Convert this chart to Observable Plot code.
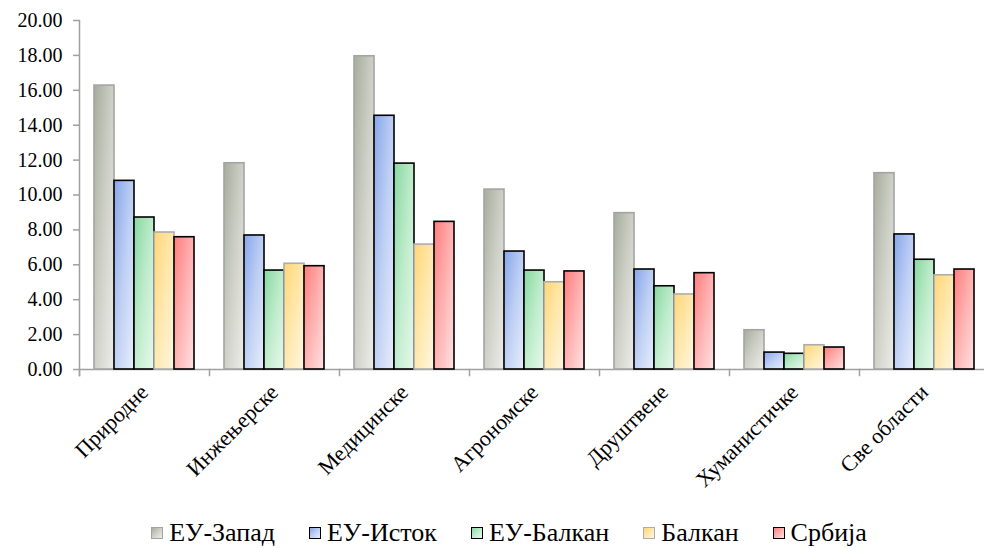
<!DOCTYPE html>
<html><head><meta charset="utf-8">
<script src="https://cdn.jsdelivr.net/npm/d3@7"></script>
<script src="https://cdn.jsdelivr.net/npm/@observablehq/plot@0.6"></script>
<style>
html,body{margin:0;padding:0;background:#fff;}
body{width:984px;height:548px;overflow:hidden;font-family:"Liberation Serif","Times New Roman",serif;}
#legend{display:flex;justify-content:center;align-items:center;height:28px;line-height:28px;font-size:26px;color:#000;padding-left:34px;margin-top:19px;}
.item{display:flex;align-items:center;margin:0 17px;}
.sw{width:10px;height:10px;margin-right:6px;box-sizing:content-box;border-width:1.5px;border-style:solid;}
</style></head>
<body><div id="chart"></div><div id="legend"></div>
<script>
// ---- data ----
const categories = ["Природне","Инжењерске","Медицинске","Агрономске","Друштвене","Хуманистичке","Све области"];
const seriesNames = ["ЕУ-Запад","ЕУ-Исток","ЕУ-Балкан","Балкан","Србија"];
const euWest   = [16.27, 11.82, 17.95, 10.31, 8.96, 2.25, 11.25];
const euEast   = [10.81,  7.68, 14.54,  6.76, 5.73, 0.97,  7.74];
const euBalkan = [ 8.71,  5.67, 11.80,  5.67, 4.77, 0.90,  6.29];
const balkan   = [ 7.85,  6.06,  7.16,  5.00, 4.30, 1.39,  5.40];
const serbia   = [ 7.58,  5.92,  8.46,  5.62, 5.52, 1.26,  5.73];
const yTicks = [0,2,4,6,8,10,12,14,16,18,20];

// ---- styles ----
const gradStops = [
  ["#a7ac9c","#cfd1c8","#ededea"],
  ["#88a6ea","#bfd0f4","#e8eefc"],
  ["#88d8a0","#bfeccc","#e8f9ed"],
  ["#ffd676","#ffe8ae","#fff7e3"],
  ["#ff7d7d","#ffb2b2","#ffe2e2"]
];
const strokes = ["#a4a4a4","#000","#000","#acacac","#000"];
const font = '"Liberation Serif","Times New Roman",serif';

// gradient defs
const defs = d3.select("body").append("svg").attr("width",0).attr("height",0)
  .style("position","absolute").style("left",0).style("top",0).append("defs");
gradStops.forEach((stops,i)=>{
  const g = defs.append("linearGradient").attr("id","g"+i)
    .attr("x1",0).attr("y1",0).attr("x2",1).attr("y2",1);
  stops.forEach((c,k)=>g.append("stop").attr("offset",k/(stops.length-1)).attr("stop-color",c));
});

const seriesValues = [euWest, euEast, euBalkan, balkan, serbia];
const rows = [];
seriesNames.forEach((s,i)=>categories.forEach((c,j)=>rows.push({category:c, series:s, value:seriesValues[i][j]})));

const axisGray = "#a0a0a0";
const plot = Plot.plot({
  width: 984, height: 500,
  marginLeft: 78, marginRight: -5, marginTop: 20, marginBottom: 131,
  style: {fontFamily: font, fontSize: "20px", color: "#000", background: "#fff"},
  fx: {domain: categories, padding: 0, label: null, axis: null},
  x: {domain: seriesNames, paddingInner: 0, paddingOuter: 0.72, axis: null},
  y: {domain: [0, 20], label: null, axis: null},
  marks: [
    Plot.ruleY([0], {stroke: axisGray, strokeWidth: 1.5}),
    ...seriesNames.map((s,i)=>Plot.barY(rows.filter(d=>d.series===s), {
      fx: "category", x: "series", y: "value",
      fill: `url(#g${i})`, stroke: strokes[i], strokeWidth: 1.6
    })),
    Plot.frame({anchor: "left", stroke: axisGray, strokeWidth: 1.5, insetTop: 349, insetBottom: -6}),
    Plot.frame({anchor: "left", facet: "super", stroke: axisGray, strokeWidth: 1.5, insetBottom: -6}),
    Plot.axisY(yTicks, {tickSize: 6, tickPadding: 11, tickFormat: d=>d.toFixed(2),
      stroke: axisGray, strokeWidth: 1.5, fill: "#000", fontSize: 20, fontFamily: font}),
    Plot.axisFx({anchor: "bottom", tickSize: 0, tickRotate: -45, tickPadding: 19,
      fontSize: 22, fill: "#000", label: null, fontFamily: font})
  ]
});
document.getElementById("chart").appendChild(plot);

// legend
const leg = d3.select("#legend");
seriesNames.forEach((s,i)=>{
  const it = leg.append("div").attr("class","item");
  it.append("div").attr("class","sw")
    .style("border-color", strokes[i])
    .style("background", `linear-gradient(135deg, ${gradStops[i].join(",")})`);
  it.append("span").text(s);
});
</script>
</body></html>
